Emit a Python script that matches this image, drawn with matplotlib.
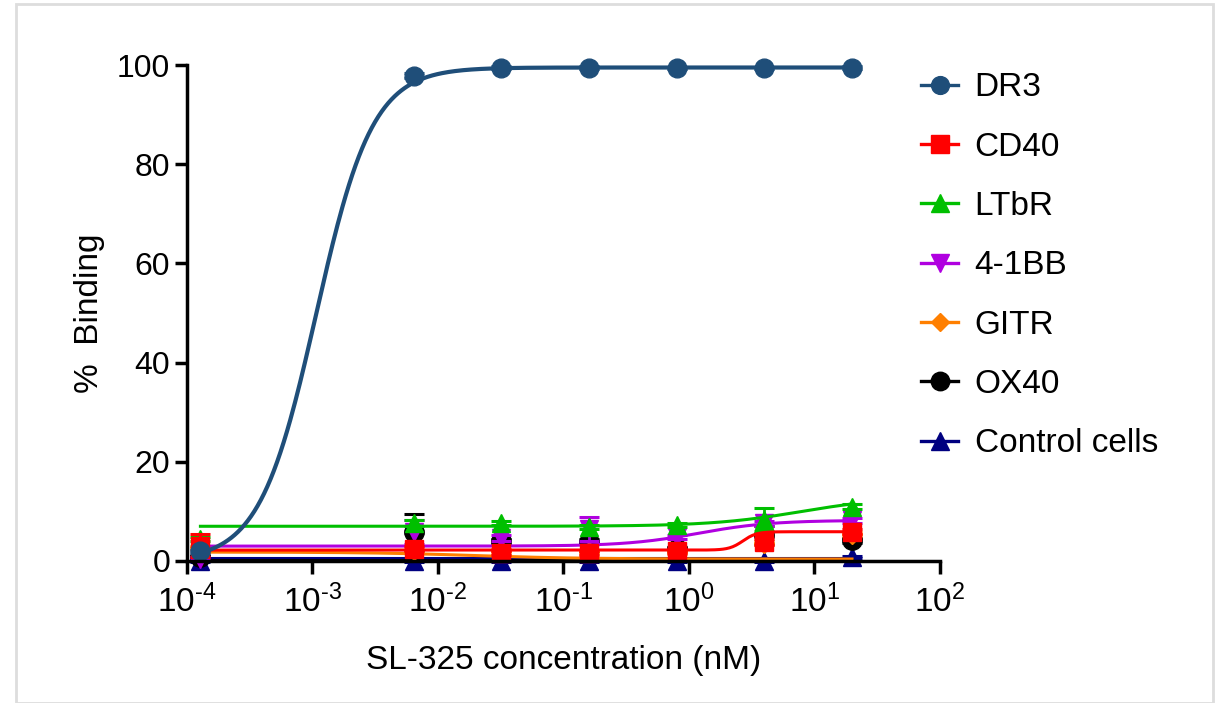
import numpy as np
import matplotlib
matplotlib.use("Agg")
import matplotlib.pyplot as plt
from matplotlib.lines import Line2D
from matplotlib.patches import Rectangle

plt.rcParams['font.family'] = ['Liberation Sans', 'DejaVu Sans']
plt.rcParams['mathtext.fontset'] = 'custom'
plt.rcParams['mathtext.rm'] = 'Liberation Sans'
plt.rcParams['mathtext.it'] = 'Liberation Sans'

### SL-325 concentrations (nM), five-fold dilutions plus the lowest point
conc = [0.000128, 0.0064, 0.032, 0.16, 0.8, 4.0, 20.0]

### % binding per receptor (mean) and error
dr3     = [2.0, 97.8, 99.5, 99.5, 99.4, 99.4, 99.5]
dr3_err = [0.3, 0.5, 0.3, 0.3, 0.3, 0.3, 0.3]
cd40     = [3.1, 2.5, 1.6, 1.6, 2.0, 3.8, 5.9]
cd40_err = [2.3, 0.5, 0.4, 0.4, 0.4, 0.6, 0.5]
ltbr     = [4.5, 7.6, 7.6, 6.9, 7.3, 8.3, 10.9]
ltbr_err = [0.4, 0.6, 0.4, 0.4, 0.4, 2.3, 0.5]
tnfrsf9     = [0.5, 5.9, 4.6, 6.5, 4.8, 7.6, 8.2]
tnfrsf9_err = [0.4, 2.4, 0.6, 2.4, 0.4, 0.5, 0.5]
gitr     = [2.8, 2.3, 2.0, 1.8, 1.8, 3.6, 5.5]
gitr_err = [0.3, 0.4, 0.4, 0.4, 0.4, 0.4, 0.4]
ox40     = [0.8, 5.9, 4.0, 3.9, 2.4, 5.2, 4.2]
ox40_err = [0.3, 3.6, 0.5, 0.5, 0.4, 1.8, 0.5]
control     = [0.0, 0.0, 0.0, 0.0, 0.0, 0.0, 0.8]
control_err = [0.2, 0.2, 0.2, 0.2, 0.2, 0.2, 0.2]

### 4PL fit parameters: bottom, top, EC50 (nM), hill slope
fits = {
    "DR3":           (0.0, 99.5, 1.07e-3, 1.93),
    "CD40":          (2.2, 5.9, 2.7, 8.0),
    "LTbR":          (7.0, 13.0, 8.0, 1.2),
    "4-1BB":         (3.0, 8.2, 1.2, 1.5),
    "GITR":          (1.8, 0.4, 0.02, 1.0),
    "OX40":          (0.2, 0.2, 1.0, 1.0),
    "Control cells": (0.6, 0.6, 1.0, 1.0),
}

series = [
    # label, values, errors, colour, marker, marker size, fit line width
    ("DR3",           dr3,     dr3_err,     "#1f4e79", "o", 13.5, 3.0),
    ("CD40",          cd40,    cd40_err,    "#ff0000", "s", 13, 2.2),
    ("LTbR",          ltbr,    ltbr_err,    "#00bf00", "^", 13, 2.2),
    ("4-1BB",         tnfrsf9, tnfrsf9_err, "#b000e0", "v", 13, 2.2),
    ("GITR",          gitr,    gitr_err,    "#ff7f00", "D", 10, 2.2),
    ("OX40",          ox40,    ox40_err,    "#000000", "o", 14, 2.2),
    ("Control cells", control, control_err, "#000080", "^", 13, 2.2),
]

def four_pl(x, bottom, top, ec50, hill):
    return bottom + (top - bottom) / (1.0 + (ec50 / x) ** hill)

fig = plt.figure(figsize=(12.22, 7.03), dpi=100)
ax = fig.add_axes([0.153, 0.202, 0.616, 0.7055])

xfit = np.logspace(np.log10(conc[0]), np.log10(conc[-1]), 400)
handles = []
n = len(series)
for i, (label, vals, errs, col, mk, ms, lw) in enumerate(series):
    z = 10 + 2 * (n - i)
    ax.plot(xfit, four_pl(xfit, *fits[label]), color=col, lw=lw, zorder=z - 1, clip_on=False)
    ax.errorbar(conc, vals, yerr=errs, fmt=mk, color=col, ms=ms, mec=col,
                ecolor=col, elinewidth=2, capsize=7, capthick=2.2, zorder=z, clip_on=False)
    handles.append(Line2D([], [], color=col, lw=2.4, marker=mk, ms=ms * 0.95, label=label))

ax.set_xscale('log')
ax.set_xlim(1e-4, 1e2)
ax.set_ylim(0, 100)
ax.set_xticks([1e-4, 1e-3, 1e-2, 1e-1, 1e0, 1e1, 1e2])
ax.set_xticklabels(['10$^{\u2010%d}$' % -p if p < 0 else '10$^{%d}$' % p for p in range(-4, 3)])
ax.xaxis.set_minor_locator(matplotlib.ticker.NullLocator())
ax.set_yticks([0, 20, 40, 60, 80, 100])

for side in ('top', 'right'):
    ax.spines[side].set_visible(False)
for side in ('left', 'bottom'):
    ax.spines[side].set_linewidth(2.5)
    ax.spines[side].set_zorder(30)
ax.tick_params(axis='both', which='major', length=9, width=2.5, labelsize=23, direction='out')
ax.tick_params(axis='x', labelsize=24, pad=8)
ax.tick_params(axis='y', pad=3)

ax.set_xlabel("SL-325 concentration (nM)", fontsize=24, labelpad=19)
ax.set_ylabel("%  Binding", fontsize=24, labelpad=9)

fig.legend(handles=handles, loc='upper left', bbox_to_anchor=(0.743, 0.916), frameon=False,
           fontsize=24, handlelength=1.1, handletextpad=0.5, labelspacing=0.85, borderaxespad=0)

# thin light frame around the whole figure
fig.patches.append(Rectangle((0.013, 0.0), 0.98, 0.995, transform=fig.transFigure,
                             fill=False, edgecolor='#dddddd', lw=2))

fig.savefig("out.png", dpi=100)
